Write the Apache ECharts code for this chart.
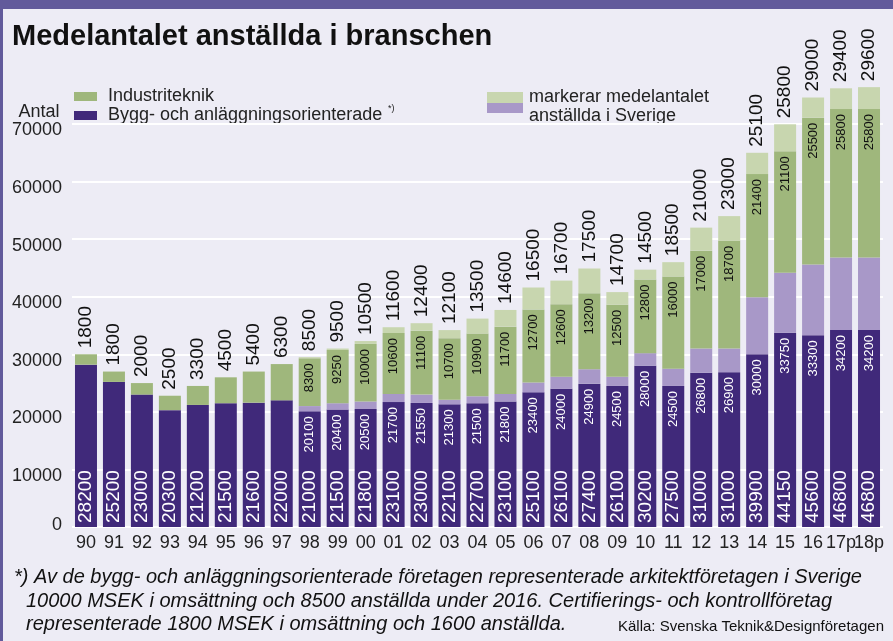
<!DOCTYPE html>
<html>
<head>
<meta charset="utf-8">
<script src="https://cdn.jsdelivr.net/npm/echarts@6/dist/echarts.min.js"></script>
<style>
  html, body { margin: 0; padding: 0; background: #edecf5; }
  #chart { width: 893px; height: 641px; }
</style>
</head>
<body>
<div id="chart"></div>
<script>
const years = ['90', '91', '92', '93', '94', '95', '96', '97', '98', '99', '00', '01', '02', '03', '04',
    '05', '06', '07', '08', '09', '10', '11', '12', '13', '14', '15', '16', '17p', '18p'];
// Bygg- och anläggningsorienterade: totalt och inre (mörk) del
const byggTotal = [28200, 25200, 23000, 20300, 21200, 21500, 21600, 22000, 21000, 21500, 21800, 23100, 23000, 22100, 22700,
    23100, 25100, 26100, 27400, 26100, 30200, 27500, 31000, 31000, 39900, 44150, 45600, 46800, 46800];
const byggInner = [null, null, null, null, null, null, null, null, 20100, 20400, 20500, 21700, 21550, 21300, 21500,
    21800, 23400, 24000, 24900, 24500, 28000, 24500, 26800, 26900, 30000, 33750, 33300, 34200, 34200];
// Industriteknik
const industriTotal = [1800, 1800, 2000, 2500, 3300, 4500, 5400, 6300, 8500, 9500, 10500, 11600, 12400, 12100, 13500,
    14600, 16500, 16700, 17500, 14700, 14500, 18500, 21000, 23000, 25100, 25800, 29000, 29400, 29600];
const industriInner = [null, null, null, null, null, null, null, null, 8300, 9250, 10000, 10600, 11100, 10700, 10900,
    11700, 12700, 12600, 13200, 12500, 12800, 16000, 17000, 18700, 21400, 21100, 25500, 25800, 25800];

const byggDark = byggTotal.map((v, i) => byggInner[i] == null ? v : byggInner[i]);
const byggLight = byggTotal.map((v, i) => v - byggDark[i]);
const industriDark = industriTotal.map((v, i) => industriInner[i] == null ? v : industriInner[i]);
const industriLight = industriTotal.map((v, i) => v - industriDark[i]);

const FONT = 'Liberation Sans, Arial, Helvetica, sans-serif';
const C_PURPLE = '#40297a', C_PURPLE_L = '#a898c8', C_GREEN = '#9fb77c', C_GREEN_L = '#c8d6af';

const myChart = echarts.init(document.getElementById('chart'));

const rotLabel = (extra) => Object.assign({
    show: true,
    rotate: 90,
    verticalAlign: 'middle',
    fontFamily: FONT
}, extra);

const option = {
    backgroundColor: '#edecf5',
    animation: false,
    grid: {left: 72, top: 124, width: 811, height: 403},
    xAxis: {
        type: 'category',
        data: years,
        axisLine: {show: false},
        axisTick: {show: false},
        axisLabel: {interval: 0, color: '#222', fontSize: 18, fontFamily: FONT, margin: 7}
    },
    yAxis: {
        type: 'value',
        min: 0,
        max: 70000,
        interval: 10000,
        axisLine: {show: false},
        axisTick: {show: false},
        axisLabel: {
            color: '#222', fontSize: 18, fontFamily: FONT, margin: 10,
            formatter: v => v === 0 ? '{z|0}' : '{a|' + v + '}',
            rich: {
                a: {fontSize: 18, fontFamily: FONT, color: '#222', padding: [13, 0, 0, 0]},
                z: {fontSize: 18, fontFamily: FONT, color: '#222', padding: [0, 0, 4, 0]}
            }
        },
        splitLine: {lineStyle: {color: '#ffffff', width: 2}}
    },
    series: [
        {
            type: 'bar', stack: 'a', barWidth: 22, barGap: '-100%', clip: false,
            data: byggDark,
            itemStyle: {color: C_PURPLE},
            label: rotLabel({
                position: 'insideBottom', align: 'left', distance: 4,
                color: '#fff', fontSize: 19,
                formatter: p => byggTotal[p.dataIndex]
            })
        },
        {
            type: 'bar', stack: 'a', barWidth: 22, clip: false,
            data: byggLight,
            itemStyle: {color: C_PURPLE_L}
        },
        {
            type: 'bar', stack: 'a', barWidth: 22, clip: false,
            data: industriDark,
            itemStyle: {color: C_GREEN},
            label: rotLabel({
                position: 'insideTop', align: 'right', distance: 5,
                color: '#111', fontSize: 13,
                formatter: p => industriInner[p.dataIndex] == null ? '' : industriInner[p.dataIndex]
            })
        },
        {
            type: 'bar', stack: 'a', barWidth: 22, clip: false,
            data: industriLight,
            itemStyle: {color: C_GREEN_L},
            label: rotLabel({
                position: 'top', align: 'left', distance: 6,
                color: '#111', fontSize: 19,
                formatter: p => industriTotal[p.dataIndex]
            })
        },
        {
            // bara etiketten för den mörka lila delen
            type: 'bar', barWidth: 22, barGap: '-100%', silent: true, z: 5, clip: false,
            data: byggDark,
            itemStyle: {color: 'rgba(0,0,0,0)'},
            label: rotLabel({
                position: 'insideTop', align: 'right', distance: 5,
                color: '#fff', fontSize: 13,
                formatter: p => byggInner[p.dataIndex] == null ? '' : byggInner[p.dataIndex]
            })
        }
    ],
    graphic: [
        {type: 'rect', z: 100, shape: {x: 0, y: 0, width: 893, height: 9}, style: {fill: '#625a9b'}},
        {type: 'rect', z: 100, shape: {x: 0, y: 0, width: 3, height: 641}, style: {fill: '#625a9b'}},
        {type: 'text', x: 12, y: 37, style: {text: 'Medelantalet anställda i branschen', font: 'bold 29px ' + FONT, fill: '#111', verticalAlign: 'middle'}},
        {type: 'text', x: 39, y: 112, style: {text: 'Antal', font: '18px ' + FONT, fill: '#222', align: 'center', verticalAlign: 'middle'}},
        // legend vänster
        {type: 'rect', shape: {x: 74, y: 92, width: 23, height: 9}, style: {fill: C_GREEN}},
        {type: 'rect', shape: {x: 74, y: 111, width: 23, height: 9}, style: {fill: C_PURPLE}},
        {type: 'text', x: 108, y: 96, style: {text: 'Industriteknik', font: '18px ' + FONT, fill: '#222', verticalAlign: 'middle'}},
        {type: 'text', x: 108, y: 115, style: {text: 'Bygg- och anläggningsorienterade', font: '18px ' + FONT, fill: '#222', verticalAlign: 'middle'}},
        {type: 'text', x: 388, y: 109, style: {text: '*)', font: '9px ' + FONT, fill: '#222', verticalAlign: 'middle'}},
        // legend höger
        {type: 'rect', shape: {x: 487, y: 92, width: 36, height: 11}, style: {fill: C_GREEN_L}},
        {type: 'rect', shape: {x: 487, y: 103, width: 36, height: 10}, style: {fill: C_PURPLE_L}},
        {type: 'text', x: 529, y: 97, style: {text: 'markerar medelantalet', font: '18px ' + FONT, fill: '#222', verticalAlign: 'middle'}},
        {type: 'text', x: 529, y: 116, style: {text: 'anställda i Sverige', font: '18px ' + FONT, fill: '#222', verticalAlign: 'middle'}},
        // fotnot
        {type: 'text', x: 14, y: 577, style: {text: '*) Av de bygg- och anläggningsorienterade företagen representerade arkitektföretagen i Sverige', font: 'italic 20px ' + FONT, fill: '#111', verticalAlign: 'middle'}},
        {type: 'text', x: 26, y: 601, style: {text: '10000 MSEK i omsättning och 8500 anställda under 2016. Certifierings- och kontrollföretag', font: 'italic 20px ' + FONT, fill: '#111', verticalAlign: 'middle'}},
        {type: 'text', x: 26, y: 624, style: {text: 'representerade 1800 MSEK i omsättning och 1600 anställda.', font: 'italic 20px ' + FONT, fill: '#111', verticalAlign: 'middle'}},
        {type: 'text', x: 618, y: 627, style: {text: 'Källa: Svenska Teknik&Designföretagen', font: '15px ' + FONT, fill: '#111', verticalAlign: 'middle'}}
    ]
};

option && myChart.setOption(option);
</script>
</body>
</html>
